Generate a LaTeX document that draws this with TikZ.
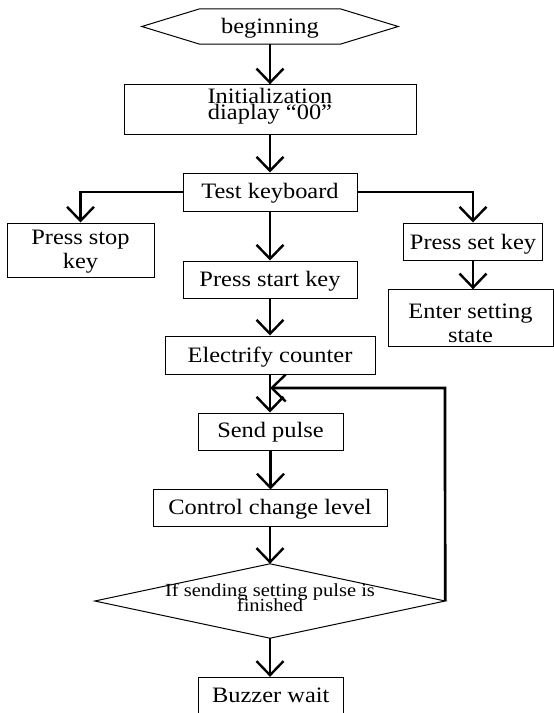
\documentclass[tikz,border=0pt]{standalone}
\usepackage{fontspec}
\setmainfont{Liberation Serif}[FakeStretch=1.11]
\usetikzlibrary{arrows.meta,calc}
\newcommand\twol[3]{\vtop{\baselineskip=#3\lineskiplimit=-100pt\lineskip=0pt\hbox to 0pt{\hss #1\hss}\hbox to 0pt{\hss #2\hss}}}
\tikzset{
  box/.style={draw, line width=1pt, inner sep=0pt, font=\fontsize{22}{26}\selectfont},
  ghost/.style={inner sep=0pt, font=\fontsize{22}{26}\selectfont},
  conn/.style={line width=2.7pt, -{Straight Barb[length=14pt,width=27pt,line width=2.4pt]}},
  line/.style={line width=2.7pt}
}
\begin{document}
\begin{tikzpicture}[x=1pt,y=-1pt]
\clip (0,0) rectangle (554,713);
% start hexagon
\node[ghost, minimum width=256pt, minimum height=35pt, text height=13.6pt, text depth=0pt] (beg) at (270,26.5) {beginning};
\draw[line width=1pt] (beg.west) -- ($(beg.north west)+(58,0)$) -- ($(beg.north east)+(-58,0)$) -- (beg.east) -- ($(beg.south east)+(-58,0)$) -- ($(beg.south west)+(58,0)$) -- cycle;
% boxes
\node[box, minimum width=292pt, minimum height=50pt, text height=0pt, text depth=12.6pt] (init) at (270,109.8) {\twol{Initialization}{diaplay “00”}{16pt}};
\node[box, minimum width=174pt, minimum height=38pt, text height=12pt, text depth=0pt] (test) at (270,192) {Test keyboard};
\node[box, minimum width=147pt, minimum height=54pt, text height=0pt, text depth=12pt] (stop) at (80.5,250) {\twol{Press stop}{key}{24pt}};
\node[box, minimum width=174pt, minimum height=37pt, text height=14.4pt, text depth=0pt] (start) at (270,279.5) {Press start key};
\node[box, minimum width=139pt, minimum height=37pt, text height=15pt, text depth=0pt] (setk) at (473,241.5) {Press set key};
\node[box, minimum width=165pt, minimum height=57pt, text height=0pt, text depth=0.5pt] (enter) at (470.5,318.3) {\twol{Enter setting}{state}{24pt}};
\node[box, minimum width=210pt, minimum height=38pt, text height=14pt, text depth=0pt] (elec) at (270,355) {Electrify counter};
\node[box, minimum width=145pt, minimum height=37pt, text height=11pt, text depth=0pt] (send) at (270.5,431.5) {Send pulse};
\node[box, minimum width=234pt, minimum height=36.7pt, text height=12pt, text depth=0pt] (ctrl) at (270,508.3) {Control change level};
% decision diamond
\node[inner sep=0pt, minimum width=350pt, minimum height=74pt, text height=0pt, text depth=9pt, font=\fontsize{18.5}{20}\selectfont] (dia) at (270,601) {\twol{If sending setting pulse is}{finished}{15pt}};
\draw[line width=1pt] (dia.north) -- (dia.east) -- (dia.south) -- (dia.west) -- cycle;
\node[box, minimum width=145pt, minimum height=42.7pt, text height=8pt, text depth=0pt] (buzz) at (270.8,698.7) {Buzzer wait};
% connectors
\draw[conn] (beg.south) -- (beg.south |- init.north);
\draw[conn] (init.south) -- (init.south |- test.north);
\draw[conn] (test.west) -| (stop.north);
\draw[conn] (test.east) -| (setk.north);
\draw[conn] (setk.south) -- (setk.south |- enter.north);
\draw[conn] (test.south) -- (start.north);
\draw[conn] (start.south) -- (elec.north);
\draw[conn] (elec.south) -- (elec.south |- send.north);
\draw[conn] (send.south) -- (send.south |- ctrl.north);
\draw[conn] (ctrl.south) -- (dia.north);
\draw[conn] (dia.south) -- (dia.south |- buzz.north);
\coordinate (loop) at (445,388);
\draw[conn] (dia.east) -- (loop) -- (loop -| elec.south);
\end{tikzpicture}
\end{document}
